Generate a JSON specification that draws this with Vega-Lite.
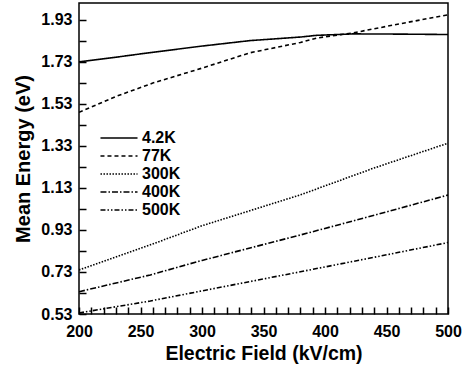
{
  "$schema": "https://vega.github.io/schema/vega-lite/v6.json",
  "width": 369,
  "height": 311,
  "autosize": "none",
  "padding": {"left": 79, "top": 3, "right": 17, "bottom": 59},
  "background": "white",
  "config": {
    "font": "Liberation Sans",
    "view": {"stroke": "black", "strokeWidth": 1.5},
    "axis": {"grid": false, "domain": false, "labelColor": "black", "titleColor": "black", "labelFont": "Liberation Sans", "titleFont": "Liberation Sans", "labelFontWeight": "bold", "titleFontWeight": "bold", "labelFontSize": 16}
  },
  "data": {
    "values": [
      {"E": 200, "V": 1.73, "T": "4.2K"},
      {"E": 230, "V": 1.752, "T": "4.2K"},
      {"E": 258, "V": 1.774, "T": "4.2K"},
      {"E": 300, "V": 1.805, "T": "4.2K"},
      {"E": 339, "V": 1.831, "T": "4.2K"},
      {"E": 380, "V": 1.848, "T": "4.2K"},
      {"E": 393, "V": 1.856, "T": "4.2K"},
      {"E": 423, "V": 1.863, "T": "4.2K"},
      {"E": 460, "V": 1.862, "T": "4.2K"},
      {"E": 500, "V": 1.86, "T": "4.2K"},
      {"E": 200, "V": 1.49, "T": "77K"},
      {"E": 230, "V": 1.565, "T": "77K"},
      {"E": 260, "V": 1.629, "T": "77K"},
      {"E": 300, "V": 1.7, "T": "77K"},
      {"E": 339, "V": 1.773, "T": "77K"},
      {"E": 380, "V": 1.822, "T": "77K"},
      {"E": 393, "V": 1.843, "T": "77K"},
      {"E": 423, "V": 1.868, "T": "77K"},
      {"E": 460, "V": 1.91, "T": "77K"},
      {"E": 500, "V": 1.954, "T": "77K"},
      {"E": 200, "V": 0.74, "T": "300K"},
      {"E": 258, "V": 0.859, "T": "300K"},
      {"E": 300, "V": 0.95, "T": "300K"},
      {"E": 380, "V": 1.097, "T": "300K"},
      {"E": 440, "V": 1.225, "T": "300K"},
      {"E": 500, "V": 1.343, "T": "300K"},
      {"E": 200, "V": 0.636, "T": "400K"},
      {"E": 258, "V": 0.716, "T": "400K"},
      {"E": 300, "V": 0.785, "T": "400K"},
      {"E": 380, "V": 0.906, "T": "400K"},
      {"E": 440, "V": 1.0, "T": "400K"},
      {"E": 500, "V": 1.096, "T": "400K"},
      {"E": 200, "V": 0.535, "T": "500K"},
      {"E": 258, "V": 0.592, "T": "500K"},
      {"E": 300, "V": 0.64, "T": "500K"},
      {"E": 380, "V": 0.731, "T": "500K"},
      {"E": 440, "V": 0.8, "T": "500K"},
      {"E": 500, "V": 0.87, "T": "500K"}
    ]
  },
  "mark": {"type": "line", "color": "black", "strokeWidth": 1.6, "clip": true},
  "encoding": {
    "x": {
      "field": "E", "type": "quantitative",
      "scale": {"domain": [200, 500], "nice": false},
      "axis": {
        "title": "Electric Field (kV/cm)", "titleFontSize": 19.5,
        "values": [200,210,220,230,240,250,260,270,280,290,300,310,320,330,340,350,360,370,380,390,400,410,420,430,440,450,460,470,480,490,500],
        "labelExpr": "datum.value % 50 == 0 ? datum.label : ''",
        "ticks": true, "tickColor": "black", "tickWidth": 1.5, "tickSize": 7, "tickOpacity": 1,
        "offset": -7, "labelPadding": 9, "titlePadding": 5, "labelFlush": false, "labelOverlap": false
      }
    },
    "y": {
      "field": "V", "type": "quantitative",
      "scale": {"domain": [0.53, 2.01], "nice": false, "zero": false},
      "axis": {
        "title": "Mean Energy (eV)", "titleFontSize": 20,
        "values": [0.53,0.63,0.73,0.83,0.93,1.03,1.13,1.23,1.33,1.43,1.53,1.63,1.73,1.83,1.93],
        "labelExpr": "round((datum.value - 0.53) * 10) % 2 == 0 ? format(datum.value, '.2f') : ''",
        "ticks": true, "tickColor": "black", "tickWidth": 1.5, "tickSize": 7, "tickOpacity": 1,
        "offset": -7, "labelPadding": 7, "titlePadding": 7, "labelFlush": false, "labelOverlap": false
      }
    },
    "strokeDash": {
      "field": "T", "type": "nominal",
      "scale": {"domain": ["4.2K","77K","300K","400K","500K"], "range": [[1,0],[4,3],[1.5,1.5],[6,2,1.5,2],[5,2,1.5,2,1.5,2]]},
      "legend": {
        "title": null, "orient": "none", "legendX": 32, "legendY": 127,
        "symbolType": "M-3.2,0H3.2", "symbolSize": 134, "symbolStrokeWidth": 1.6, "symbolStrokeColor": "black",
        "labelFontSize": 16, "labelFontWeight": "bold", "labelColor": "black", "labelFont": "Liberation Sans",
        "labelOffset": 15, "rowPadding": 2
      }
    }
  }
}
